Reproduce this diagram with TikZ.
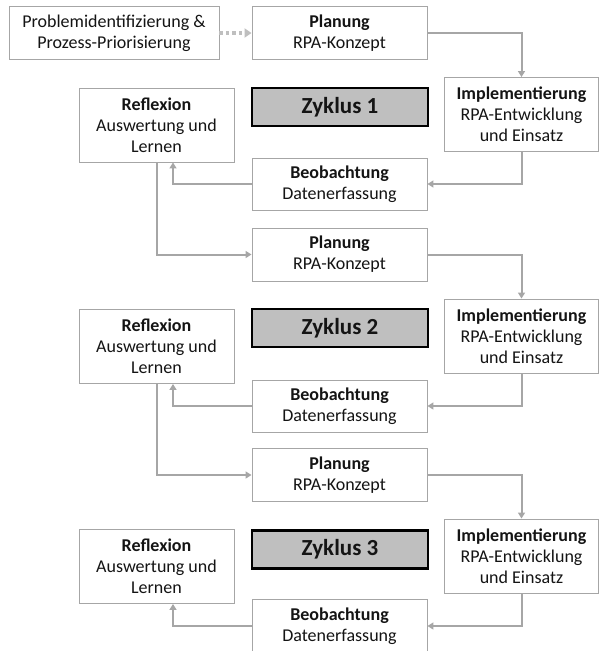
\documentclass[tikz,border=0pt]{standalone}
\usepackage{fontspec}
\setmainfont{Carlito}
\usetikzlibrary{arrows.meta}
\definecolor{boxgray}{HTML}{A6A6A6}
\definecolor{arrgray}{HTML}{A6A6A6}
\definecolor{dotgray}{HTML}{BFBFBF}
\definecolor{zykfill}{HTML}{BFBFBF}
\definecolor{txt}{HTML}{141414}
\begin{document}
\begin{tikzpicture}[x=1pt,y=-1pt,
 box/.style={draw=boxgray, line width=0.9pt, fill=white, align=center, font=\fontsize{18}{21}\selectfont, text=txt, inner sep=0pt},
 zyk/.style={draw=black, line width=2.6pt, fill=zykfill, font=\fontsize{23}{26}\selectfont\bfseries, text=txt, inner sep=0pt, minimum width=176, minimum height=38},
 conn/.style={draw=arrgray, line width=2pt, -{Triangle[length=6pt,width=7pt]}},
 pl/.style={box, minimum width=175, minimum height=53},
 rf/.style={box, minimum width=155, minimum height=74},
 im/.style={box, minimum width=154, minimum height=74},
 bo/.style={box, minimum width=175, minimum height=52},
]
\useasboundingbox (0,0) rectangle (599,651);

\node[box, minimum width=210, minimum height=53] (prob) at (114,33) {Problemidentifizierung \&\\Prozess-Priorisierung};

% cycle 1
\node[pl] (plan1) at (339.5,33) {\textbf{Planung}\\RPA-Konzept};
\node[zyk] (zyk1) at (340,107) {Zyklus 1};
\node[rf] (refl1) at (156.5,125) {\textbf{Reflexion}\\Auswertung und\\Lernen};
\node[im] (impl1) at (521.5,114.5) {\textbf{Implementierung}\\RPA-Entwicklung\\und Einsatz};
\node[bo] (beob1) at (339.5,184) {\textbf{Beobachtung}\\Datenerfassung};

% cycle 2
\node[pl] (plan2) at (339.5,254.5) {\textbf{Planung}\\RPA-Konzept};
\node[zyk] (zyk2) at (340,328) {Zyklus 2};
\node[rf] (refl2) at (156.5,346.5) {\textbf{Reflexion}\\Auswertung und\\Lernen};
\node[im] (impl2) at (521.5,336) {\textbf{Implementierung}\\RPA-Entwicklung\\und Einsatz};
\node[bo] (beob2) at (339.5,406) {\textbf{Beobachtung}\\Datenerfassung};

% cycle 3
\node[pl] (plan3) at (339.5,475) {\textbf{Planung}\\RPA-Konzept};
\node[zyk] (zyk3) at (340,549.5) {Zyklus 3};
\node[rf] (refl3) at (156.5,566.5) {\textbf{Reflexion}\\Auswertung und\\Lernen};
\node[im] (impl3) at (521.5,556) {\textbf{Implementierung}\\RPA-Entwicklung\\und Einsatz};
\node[bo, minimum height=54] (beob3) at (339.5,626) {\textbf{Beobachtung}\\Datenerfassung};

% connectors
\draw[dotgray, line width=3.5pt, dash pattern=on 3.5pt off 3pt, -{Triangle[length=7pt,width=9pt]}] (prob.east) -- (plan1.west);

\draw[conn] (plan1.east) -| (impl1.north);
\draw[conn] (impl1.south) |- (beob1.east);
\draw[conn] (beob1.west) -| ([xshift=16.5pt]refl1.south);
\draw[conn] (refl1.south) |- (plan2.west);

\draw[conn] (plan2.east) -| (impl2.north);
\draw[conn] (impl2.south) |- (beob2.east);
\draw[conn] (beob2.west) -| ([xshift=16.5pt]refl2.south);
\draw[conn] (refl2.south) |- (plan3.west);

\draw[conn] (plan3.east) -| (impl3.north);
\draw[conn] (impl3.south) |- (beob3.east);
\draw[conn] (beob3.west) -| ([xshift=16.5pt]refl3.south);
\end{tikzpicture}
\end{document}
